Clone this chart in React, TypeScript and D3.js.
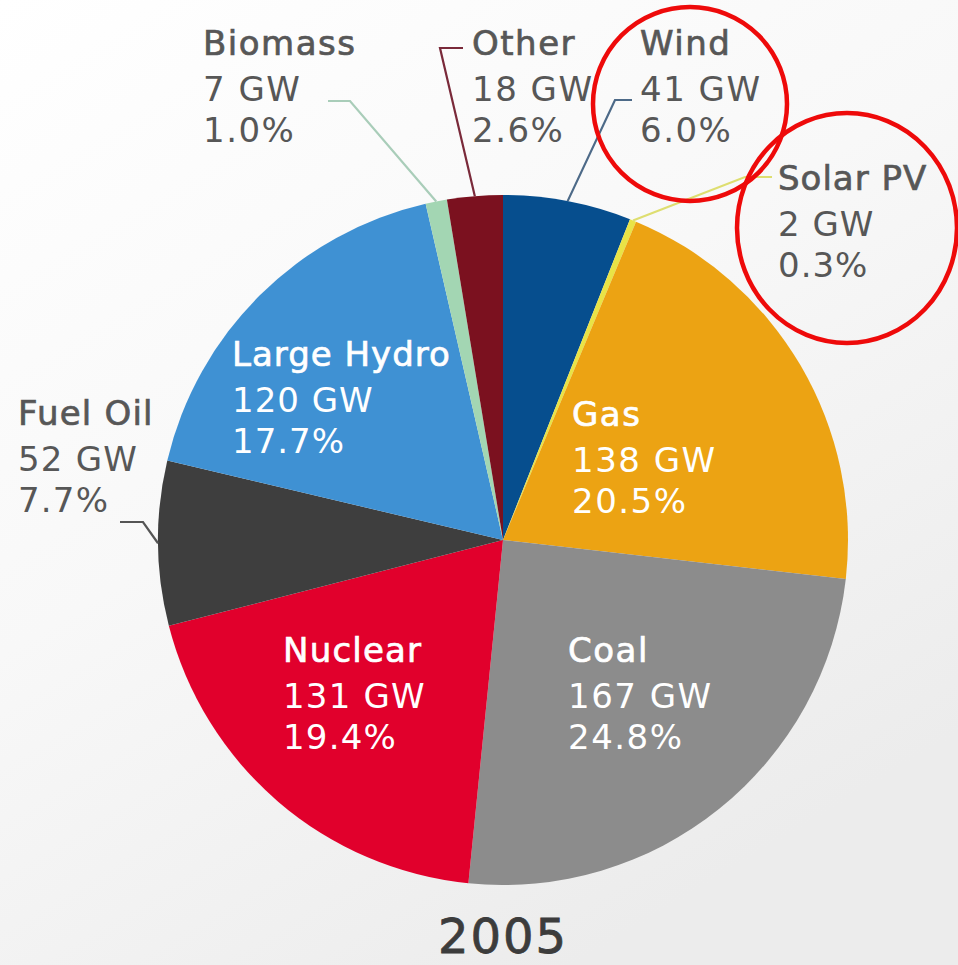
import React from "react";
import * as d3 from "d3";

const categories = ["Wind", "Solar PV", "Gas", "Coal", "Nuclear", "Fuel Oil", "Large Hydro", "Biomass", "Other"];
const capacityGW = [41, 2, 138, 167, 131, 52, 120, 7, 18];
const sharePct = [6.0, 0.3, 20.5, 24.8, 19.4, 7.7, 17.7, 1.0, 2.6];
const colors = ["#064e8e", "#e9e346", "#eca313", "#8c8c8c", "#e1002c", "#3e3e3e", "#3f91d3", "#a3d6b3", "#7b111f"];
const yearLabel = "2005";

// label layout (position of text block, colour, optional leader elbow/end)
const layout: Record<string, { x: number; y: number; inside: boolean; ls: number; elbow?: [number, number]; end?: [number, number]; lineColor?: string }> = {
  "Wind": { x: 640, y: 55, inside: false, ls: 1.5, elbow: [615, 100], end: [632, 100], lineColor: "#4d6a88" },
  "Solar PV": { x: 778, y: 190, inside: false, ls: 1.0, elbow: [745, 177], end: [772, 177], lineColor: "#dede70" },
  "Gas": { x: 572, y: 426, inside: true, ls: 1.5 },
  "Coal": { x: 568, y: 662, inside: true, ls: 1.5 },
  "Nuclear": { x: 283, y: 662, inside: true, ls: 1.2 },
  "Fuel Oil": { x: 18, y: 425, inside: false, ls: 1.2, elbow: [143, 522], end: [120, 522], lineColor: "#555555" },
  "Large Hydro": { x: 232, y: 366, inside: true, ls: 1.0 },
  "Biomass": { x: 203, y: 55, inside: false, ls: 1.5, elbow: [350, 101], end: [328, 101], lineColor: "#a9cdb9" },
  "Other": { x: 472, y: 55, inside: false, ls: 1.5, elbow: [440, 48], end: [463, 48], lineColor: "#7a2a3a" },
};

const W = 958, H = 965;
const cx = 503, cy = 540, R = 345;

export default function App() {
  const data = categories.map((c, i) => ({ name: c, gw: capacityGW[i], pct: sharePct[i], color: colors[i] }));
  const pie = d3.pie<any>().value((d: any) => d.pct).sort(null);
  const arcs = pie(data);
  const arc = d3.arc<any>().innerRadius(0).outerRadius(R);
  const font = "'DejaVu Sans', sans-serif";
  return (
    <svg width={W} height={H} style={{ position: "absolute", left: 0, top: 0 }} fontFamily={font}>
      <defs>
        <linearGradient id="bg" x1="0" y1="0" x2="0.6" y2="1">
          <stop offset="0" stopColor="#ffffff" />
          <stop offset="0.5" stopColor="#f8f8f8" />
          <stop offset="1" stopColor="#ececec" />
        </linearGradient>
      </defs>
      <rect width={W} height={H} fill="url(#bg)" />
      <g transform={`translate(${cx},${cy})`}>
        {arcs.map((a, i) => (
          <path key={i} d={arc(a) as string} fill={a.data.color} />
        ))}
      </g>
      {arcs.map((a, i) => {
        const L = layout[a.data.name];
        if (!L.elbow) return null;
        const mid = (a.startAngle + a.endAngle) / 2;
        const px = cx + Math.sin(mid) * R;
        const py = cy - Math.cos(mid) * R;
        return (
          <polyline key={"l" + i} points={`${L.end![0]},${L.end![1]} ${L.elbow[0]},${L.elbow[1]} ${px},${py}`}
            fill="none" stroke={L.lineColor} strokeWidth={2.2} />
        );
      })}
      {data.map((d, i) => {
        const L = layout[d.name];
        const fill = L.inside ? "#ffffff" : "#575757";
        return (
          <text key={"t" + i} x={L.x} y={L.y} fill={fill} fontSize={34} letterSpacing={L.ls}>
            <tspan x={L.x} y={L.y} stroke={fill} strokeWidth={0.7}>{d.name}</tspan>
            <tspan x={L.x} y={L.y + 46}>{d.gw} GW</tspan>
            <tspan x={L.x} y={L.y + 87}>{d.pct.toFixed(1)}%</tspan>
          </text>
        );
      })}
      <text x={503} y={953} textAnchor="middle" fontSize={48} fill="#3c3c3c" stroke="#3c3c3c" strokeWidth={0.8} letterSpacing={2}>{yearLabel}</text>
      <circle cx={690} cy={104} r={97} fill="none" stroke="#ee0a0a" strokeWidth={4.5} />
      <ellipse cx={847} cy={228} rx={110} ry={115} fill="none" stroke="#ee0a0a" strokeWidth={4.5} />
    </svg>
  );
}
